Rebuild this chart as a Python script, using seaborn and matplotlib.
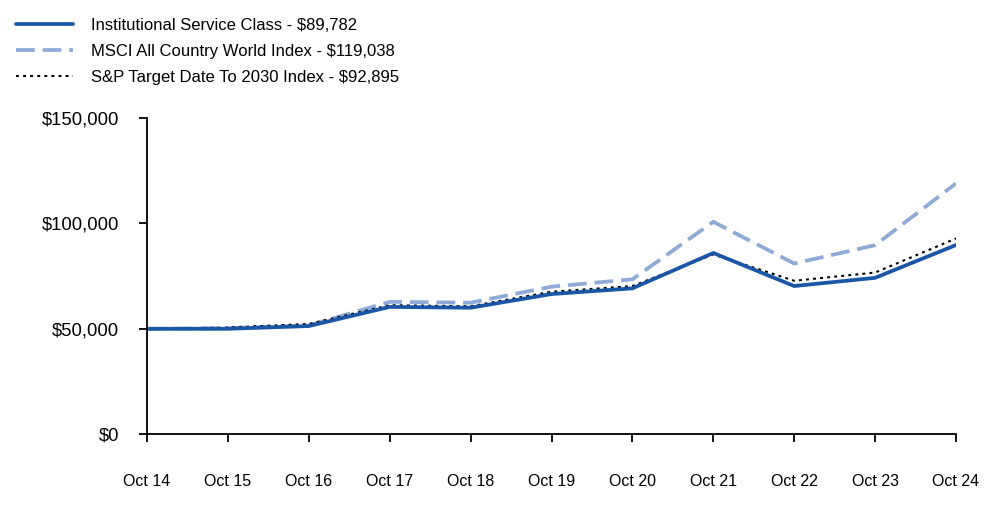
#importing libraries
import numpy as np
import pandas as pd
import seaborn as sns
import matplotlib.pyplot as plt
from matplotlib.ticker import FuncFormatter

# growth of a $50,000 investment
years = ['Oct 14', 'Oct 15', 'Oct 16', 'Oct 17', 'Oct 18', 'Oct 19',
         'Oct 20', 'Oct 21', 'Oct 22', 'Oct 23', 'Oct 24']
institutional = [50000, 50000, 51300, 60400, 60000, 66500,
                 69200, 86000, 70300, 74200, 89782]
msci = [50000, 50300, 51600, 62800, 62400, 70000,
        73500, 100800, 81000, 89700, 119038]
sp2030 = [50000, 50600, 52300, 61200, 60700, 67600,
          70300, 85300, 72800, 76700, 92895]
labels = ['Institutional Service Class - $89,782',
          'MSCI All Country World Index - $119,038',
          'S&P Target Date To 2030 Index - $92,895']

df = pd.DataFrame({'x': np.arange(len(years)),
                   labels[0]: institutional,
                   labels[1]: msci,
                   labels[2]: sp2030})

sns.set_style('white')
plt.rcParams['font.family'] = ['Liberation Sans', 'DejaVu Sans']
plt.rcParams['text.color'] = 'black'
plt.rcParams['xtick.color'] = 'black'
plt.rcParams['ytick.color'] = 'black'

fig = plt.figure(figsize=(10, 5.23), dpi=100)
ax = fig.add_axes([0.147, 0.170, 0.809, 0.604])

# draw in back-to-front order: dashed, dotted, solid
sns.lineplot(data=df, x='x', y=labels[1], ax=ax, color='#8eaad6',
             linewidth=2.7, linestyle=(0, (5, 2.1)), label=labels[1])
sns.lineplot(data=df, x='x', y=labels[2], ax=ax, color='black',
             linewidth=1.5, linestyle=(0, (1.4, 2.0)), label=labels[2])
sns.lineplot(data=df, x='x', y=labels[0], ax=ax, color='#1b56a6',
             linewidth=2.7, label=labels[0])

ax.set_xlim(0, len(years) - 1)
ax.set_ylim(0, 150000)
ax.set_xticks(np.arange(len(years)))
ax.set_xticklabels(years)
ax.set_yticks([0, 50000, 100000, 150000])
ax.yaxis.set_major_formatter(FuncFormatter(lambda v, p: '${:,.0f}'.format(v)))
ax.set_xlabel('')
ax.set_ylabel('')

for s in ['top', 'right']:
    ax.spines[s].set_visible(False)
for s in ['left', 'bottom']:
    ax.spines[s].set_color('black')
    ax.spines[s].set_linewidth(1.3)
ax.tick_params(axis='both', direction='out', length=5.5, width=1.3,
               color='black', labelcolor='black', bottom=True, left=True)
ax.tick_params(axis='x', labelsize=11.5, pad=23.5)
ax.tick_params(axis='y', labelsize=13.3, pad=14.5)

# legend in figure top-left, in the original order
h, l = ax.get_legend_handles_labels()
order = [2, 0, 1]
leg = fig.legend([h[i] for i in order], [l[i] for i in order],
                 loc='upper left', bbox_to_anchor=(0.001, 0.994), frameon=False,
                 fontsize=12, handlelength=3.4, handletextpad=1.1, labelspacing=0.66)
for t in leg.get_texts():
    t.set_color('black')
ax.get_legend().remove()

plt.savefig('out.png', dpi=100)
